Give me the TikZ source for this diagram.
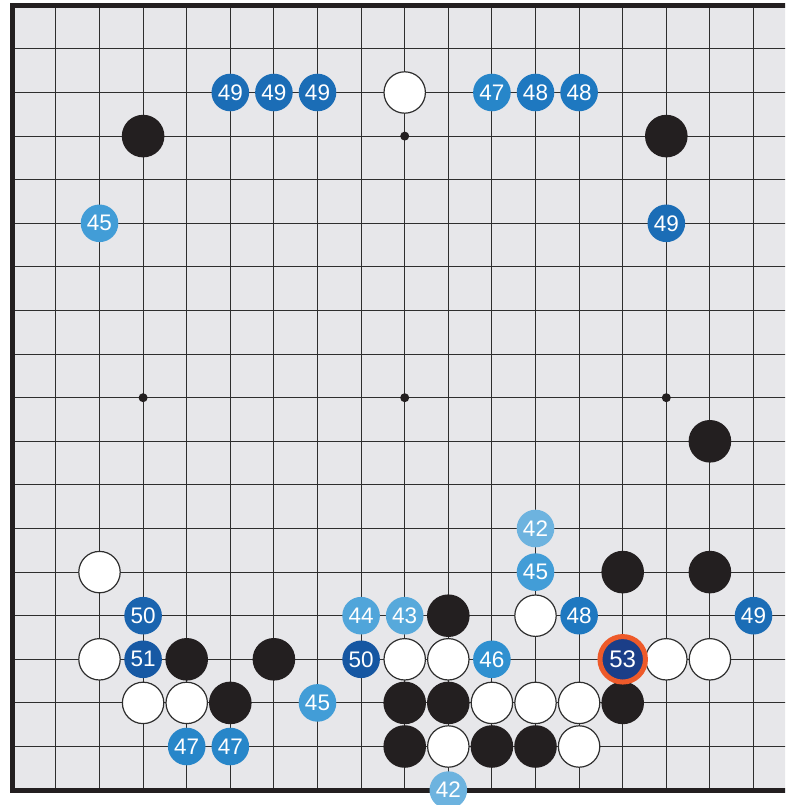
\documentclass[tikz,border=0pt]{standalone}
\usepackage{fontspec}
\setmainfont{Liberation Sans}
\definecolor{boardbg}{HTML}{E7E7EA}
\definecolor{gridc}{HTML}{2E2E2E}
\definecolor{stoneblack}{HTML}{231F20}
\definecolor{c42}{HTML}{6DB3DF}
\definecolor{c43}{HTML}{57A9DB}
\definecolor{c44}{HTML}{50A5DA}
\definecolor{c45}{HTML}{429DD7}
\definecolor{c46}{HTML}{2F90D0}
\definecolor{c47}{HTML}{2786C9}
\definecolor{c48}{HTML}{1E78C0}
\definecolor{c49}{HTML}{1B6DB6}
\definecolor{c50a}{HTML}{1A64AF}
\definecolor{c50b}{HTML}{1657A2}
\definecolor{c51}{HTML}{1759A4}
\definecolor{c53}{HTML}{1B3E88}
\definecolor{ringc}{HTML}{EE5A2A}
\tikzset{
  blackstone/.style={circle, fill=stoneblack, minimum size=42.6pt, inner sep=0pt},
  whitestone/.style={circle, fill=white, draw=gridc, line width=1.2pt, minimum size=41.4pt, inner sep=0pt},
  movemark/.style={circle, fill=#1, text=white, minimum size=37.6pt, inner sep=0pt,
    font=\fontsize{22.5}{22.5}\selectfont},
  lastmove/.style={circle, fill=c53, draw=ringc, line width=5pt, text=white, minimum size=45.5pt, inner sep=0pt,
    font=\fontsize{24}{24}\selectfont},
  starpt/.style={circle, fill=stoneblack, minimum size=9pt, inner sep=0pt},
  gridline/.style={draw=gridc, line width=1.1pt},
  borderline/.style={draw=stoneblack, line width=5pt, line join=miter}
}
\begin{document}
\begin{tikzpicture}[x=1pt,y=-1pt]
\useasboundingbox (0,0) rectangle (785,805);
\clip (0,0) rectangle (785,805);
\fill[white] (0,0) rectangle (785,805);
\begin{scope}[shift={(12.3pt,-5.3pt)}, x=43.6pt, y=-43.6pt]
  % board
  \fill[boardbg] (0,0) rectangle (18.5,18);
  \foreach \i in {1,...,17} {
    \draw[gridline] (\i,0) -- (\i,18);
    \draw[gridline] (0,\i) -- (18.5,\i);
  }
  \draw[borderline] (18.5,0) -- (0,0) -- (0,18) -- (18.5,18);
  % star points
  \foreach \c/\r [count=\k] in {3/3,9/3,15/3,3/9,9/9,15/9,3/15,9/15,15/15}
    \node[starpt] (star\k) at (\c,\r) {};
  % black stones
  \foreach \c/\r [count=\k] in {3/3,15/3,16/10,10/14,14/13,16/13,4/15,6/15,5/16,9/16,10/16,14/16,9/17,11/17,12/17}
    \node[blackstone] (b\k) at (\c,\r) {};
  % white stones
  \foreach \c/\r [count=\k] in {9/2,2/13,2/15,3/16,4/16,12/14,9/15,10/15,15/15,16/15,11/16,12/16,13/16,10/17,13/17}
    \node[whitestone] (w\k) at (\c,\r) {};
  % numbered moves
  \node[movemark=c49] (m49a) at (5,2) {49};
  \node[movemark=c49] (m49b) at (6,2) {49};
  \node[movemark=c49] (m49c) at (7,2) {49};
  \node[movemark=c47] (m47a) at (11,2) {47};
  \node[movemark=c48] (m48a) at (12,2) {48};
  \node[movemark=c48] (m48b) at (13,2) {48};
  \node[movemark=c45] (m45a) at (2,5) {45};
  \node[movemark=c49] (m49d) at (15,5) {49};
  \node[movemark=c42] (m42a) at (12,12) {42};
  \node[movemark=c45] (m45b) at (12,13) {45};
  \node[movemark=c50a] (m50a) at (3,14) {50};
  \node[movemark=c44] (m44) at (8,14) {44};
  \node[movemark=c43] (m43) at (9,14) {43};
  \node[movemark=c48] (m48c) at (13,14) {48};
  \node[movemark=c49] (m49e) at (17,14) {49};
  \node[movemark=c51] (m51) at (3,15) {51};
  \node[movemark=c50b] (m50b) at (8,15) {50};
  \node[movemark=c46] (m46) at (11,15) {46};
  \node[lastmove] (m53) at (14,15) {53};
  \node[movemark=c45] (m45c) at (7,16) {45};
  \node[movemark=c47] (m47b) at (4,17) {47};
  \node[movemark=c47] (m47c) at (5,17) {47};
  \node[movemark=c42] (m42b) at (10,18) {42};
\end{scope}
\end{tikzpicture}
\end{document}
